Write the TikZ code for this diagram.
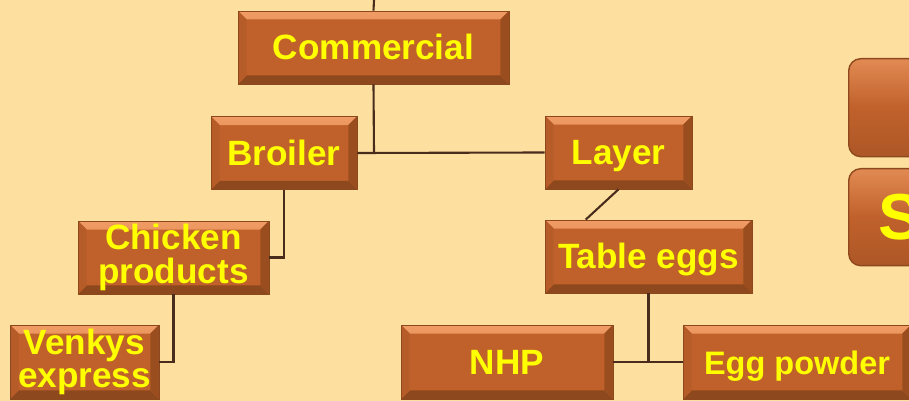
\documentclass[tikz,border=0pt]{standalone}
\usepackage{fontspec}
\setmainfont{Liberation Sans}

\definecolor{bg}{HTML}{FDE0A0}
\definecolor{boxfill}{HTML}{C0612B}
\definecolor{boxtop}{HTML}{F09C64}
\definecolor{boxleft}{HTML}{B65C29}
\definecolor{boxright}{HTML}{9A4E1F}
\definecolor{boxbottom}{HTML}{8E481D}
\definecolor{linkcol}{HTML}{4A2C1C}
\definecolor{labelcol}{HTML}{FFFF00}

\newcommand{\bevw}{0.17cm}

\tikzset{
  bevelbox/.style={fill=boxfill, draw=boxbottom, line width=0.4pt,
    minimum height=1.46cm, inner sep=0pt, align=center,
    text height=18pt, text depth=4.2pt,
    text=labelcol, font=\fontsize{20}{19}\selectfont\bfseries,
    path picture={
      \shade[top color=boxtop, bottom color=boxfill!85!boxtop]
        (path picture bounding box.north west) -- (path picture bounding box.north east)
        -- ([shift={(-\bevw,-\bevw)}]path picture bounding box.north east)
        -- ([shift={(\bevw,-\bevw)}]path picture bounding box.north west) -- cycle;
      \fill[boxbottom]
        (path picture bounding box.south west) -- (path picture bounding box.south east)
        -- ([shift={(-\bevw,\bevw)}]path picture bounding box.south east)
        -- ([shift={(\bevw,\bevw)}]path picture bounding box.south west) -- cycle;
      \fill[boxleft]
        (path picture bounding box.north west) -- (path picture bounding box.south west)
        -- ([shift={(\bevw,\bevw)}]path picture bounding box.south west)
        -- ([shift={(\bevw,-\bevw)}]path picture bounding box.north west) -- cycle;
      \fill[boxright]
        (path picture bounding box.north east) -- (path picture bounding box.south east)
        -- ([shift={(-\bevw,\bevw)}]path picture bounding box.south east)
        -- ([shift={(-\bevw,-\bevw)}]path picture bounding box.north east) -- cycle;
    }},
  twoline/.style={text height=, text depth=},
  sidebox/.style={draw=boxbottom, line width=0.8pt, rounded corners=0.24cm,
    top color=boxtop!70!boxfill, bottom color=boxfill!90!black, middle color=boxfill,
    anchor=north west, minimum width=4cm, inner sep=0pt,
    text=labelcol, font=\fontsize{37}{40}\selectfont\bfseries},
  link/.style={draw=linkcol, line width=1.2pt}
}

\begin{document}
\begin{tikzpicture}[x=0.02cm, y=-0.02cm]
  \path[fill=bg, use as bounding box] (0,0) rectangle (909,401);

  \node[bevelbox, minimum width=5.42cm] (comm) at (373.5,47.5) {Commercial};
  \node[bevelbox, minimum width=2.92cm] (broiler) at (284,153) {Broiler};
  \node[bevelbox, minimum width=2.94cm] (layer) at (618.5,152.5) {Layer};

  \node[bevelbox, twoline, minimum width=3.82cm] (chicken) at (173.5,257.5) {Chicken\\products};
  \node[bevelbox, minimum width=4.14cm] (eggs) at (648.5,256.5) {Table eggs};

  \node[bevelbox, twoline, minimum width=2.98cm, minimum height=1.48cm] (venkys) at (84.5,362) {Venkys\\express};
  \node[bevelbox, minimum width=4.24cm, minimum height=1.48cm] (nhp) at (507,362) {NHP};
  \node[bevelbox, minimum width=4.56cm, minimum height=1.48cm,
    font=\fontsize{18.5}{19}\selectfont\bfseries] (powder) at (797,362) {Egg powder};

  \node[sidebox, minimum height=1.96cm] (side1) at (848,58) {};
  \node[sidebox, minimum height=1.94cm, text width=3cm, align=left, inner xsep=0.6cm] (side2) at (848,168) {S};

  \coordinate (topend) at (374,0);
  \coordinate (split) at (374,153);

  \draw[link] (comm.north) -- (topend);
  \draw[link] (comm.south) -- (split);
  \draw[link] (broiler.east) -- (layer.west);
  \draw[link] (broiler.south) |- (chicken.east);
  \draw[link] (chicken.south) |- (venkys.east);
  \draw[link] (layer.south) -- ([xshift=0.82cm]eggs.north west);
  \draw[link] (eggs.south) -- (eggs.south |- nhp.east);
  \draw[link] (nhp.east) -- (powder.west);
\end{tikzpicture}
\end{document}
